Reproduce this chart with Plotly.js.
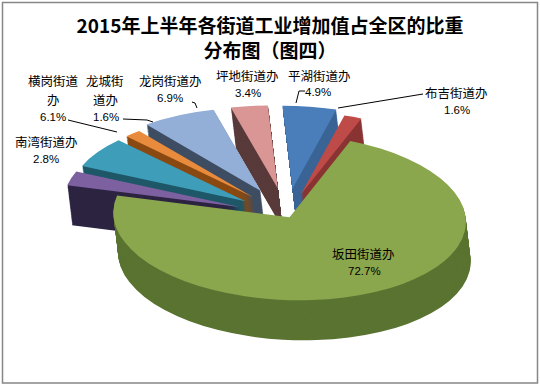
<!DOCTYPE html>
<html><head><meta charset="utf-8">
<script src="https://cdn.plot.ly/plotly-3.0.1.min.js"></script>
<style>
html,body{margin:0;padding:0;background:#fff;overflow:hidden;width:540px;height:386px;}
#pie{position:absolute;left:0;top:0;width:540px;height:800px;transform-origin:0 0;}
#ov{position:absolute;left:0;top:0;width:540px;height:386px;}
</style></head><body>
<div id="pie"></div><div id="ov"></div>
<script>
// ---- data ----
const categories = ['平湖街道办','布吉街道办','坂田街道办','南湾街道办','横岗街道办','龙城街道办','龙岗街道办','坪地街道办'];
const shares = [4.9, 1.6, 72.7, 2.8, 6.1, 1.6, 6.9, 3.4];
const labelLines = ['平湖街道办','布吉街道办','坂田街道办','南湾街道办','横岗街道<br>办','龙城街<br>道办','龙岗街道办','坪地街道办'];
const chartTitle = '2015年上半年各街道工业增加值占全区的比重<br>分布图（图四）';

// ---- style ----
const topColors  = ['#4A7EBB','#BE4B48','#8BA74E','#7D60A0','#3E9DB8','#E88B3C','#93AFD8','#D99694'];
const sideColors = ['#3A6495','#8A3333','#5A7431','#2D2442','#1F5868','#8A4A12','#3F4E63','#5A3B3B'];
const pulls = [0.32, 0.26, 0.03, 0.28, 0.28, 0.28, 0.32, 0.32];

const W = 540, H = 800;
const s = 0.472, k = 0.12, Yc = 215, cx = 287, a = 176, depth = 40, N = 44;
const maxPull = Math.max(...pulls);
const half = a * (1 + maxPull);
const vc = Yc / s, depthU = depth / s;

function dom(off) {
  return {x: [(cx - half) / W, (cx + half) / W],
          y: [1 - (vc + off + half) / H, 1 - (vc + off - half) / H]};
}
function pieTrace(colors, off) {
  return {type: 'pie', values: shares, labels: categories, sort: false,
          direction: 'clockwise', rotation: 0, pull: pulls,
          marker: {colors: colors, line: {width: 0}},
          textinfo: 'none', hoverinfo: 'skip', showlegend: false, domain: dom(off)};
}
const traces = [];
for (let i = N; i >= 1; i--) traces.push(pieTrace(sideColors, depthU * i / N));
traces.push(pieTrace(topColors, 0));

const pieDiv = document.getElementById('pie');
pieDiv.style.transform = `matrix(1,0,${k * s},${s},${-k * Yc},0)`;
Plotly.newPlot(pieDiv, traces, {
  width: W, height: H, margin: {l: 0, r: 0, t: 0, b: 0},
  paper_bgcolor: 'rgba(0,0,0,0)', plot_bgcolor: 'rgba(0,0,0,0)', showlegend: false
}, {staticPlot: true});

// ---- overlay: title, labels, leader lines, border ----
const OW = 540, OH = 386;
const px = v => v / OW, py = v => 1 - v / OH;
const namePos = [[319,75],[456,93],[363,253],[46,141],[53,80.5],[105,80.5],[170,81],[247,75]];
const pctPos  = [[318,92],[457,110],[364,271],[46,159],[53,117.5],[106,117.5],[170,98],[248,93]];
const lineGap = 18.5;
const annotations = [];
labelLines.forEach((lab, i) => {
  lab.split('<br>').forEach((ln, j) => {
    annotations.push({xref: 'paper', yref: 'paper', x: px(namePos[i][0]), y: py(namePos[i][1] + j * lineGap),
      xanchor: 'center', yanchor: 'middle', showarrow: false, text: ln,
      font: {family: '"Noto Sans CJK SC", sans-serif', size: 12.5, color: '#000'}});
  });
  annotations.push({xref: 'paper', yref: 'paper', x: px(pctPos[i][0]), y: py(pctPos[i][1]),
    xanchor: 'center', yanchor: 'middle', showarrow: false, text: shares[i].toFixed(1) + '%',
    font: {family: '"Liberation Sans", Arial, sans-serif', size: 11.5, color: '#000'}});
});
const leaders = [
  [[305,91],[299,91],[296,103]],
  [[423,94],[338,108]],
  [[68,120],[117,132]],
  [[123,119],[147,120],[153,122]],
  [[192,102],[195,103],[197,108]]
];
const shapes = leaders.map(pts => ({
  type: 'path', xref: 'paper', yref: 'paper',
  path: pts.map((p, j) => (j ? 'L' : 'M') + px(p[0]) + ',' + py(p[1])).join(' '),
  line: {color: '#000', width: 1}
}));
shapes.push({type: 'rect', xref: 'paper', yref: 'paper', x0: px(2.5), x1: px(537.5), y0: py(2.5), y1: py(383),
  line: {color: '#868686', width: 1.5}, fillcolor: 'rgba(0,0,0,0)'});

Plotly.newPlot('ov', [], {
  width: OW, height: OH, margin: {l: 0, r: 0, t: 0, b: 0},
  paper_bgcolor: 'rgba(0,0,0,0)', plot_bgcolor: 'rgba(0,0,0,0)',
  xaxis: {visible: false, range: [0, 1]}, yaxis: {visible: false, range: [0, 1]},
  title: {text: chartTitle, x: 0.5, xanchor: 'center', xref: 'paper', y: 1 - 33 / OH, yanchor: 'top', yref: 'container',
          font: {family: '"Noto Sans CJK SC", sans-serif', size: 19, color: '#000', weight: 'bold'}},
  annotations: annotations, shapes: shapes
}, {staticPlot: true});
</script>
</body></html>
